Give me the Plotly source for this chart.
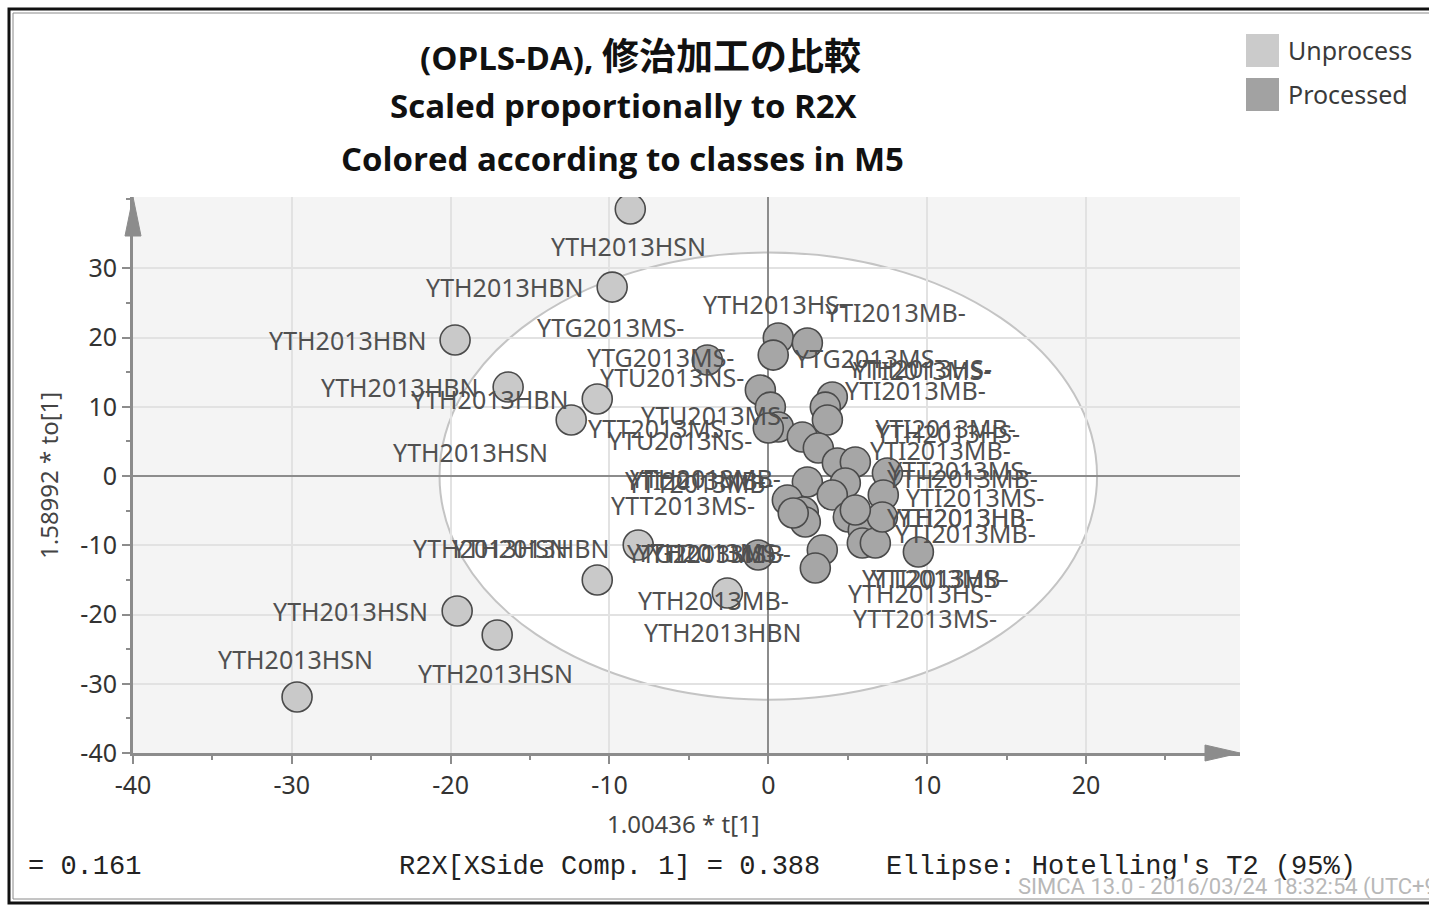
import plotly.graph_objects as go

# ---------------- data ----------------
unproc_t = [-8.69, -9.83, -19.72, -16.38, -10.77, -12.41, -8.19, -10.77, -19.59, -17.07, -29.67, -2.58]
unproc_to = [38.56, 27.29, 19.64, 12.85, 11.12, 8.09, -9.96, -15.02, -19.49, -22.96, -31.91, -16.90]
unproc_names = ["YTH2013HSN", "YTH2013HBN", "YTH2013HBN", "YTH2013HBN", "YTH2013HBN", "YTH2013HSN",
                "YTH2013HBN", "YTH2013HSN", "YTH2013HSN", "YTH2013HSN", "YTH2013HSN", "YTH2013HBN"]

proc_t = [0.63, 2.46, 0.31, -3.84, -0.50, 4.03, 3.59, 3.72, 0.13, 0.63, 0.00, 2.14, 3.15, 4.35, 5.48,
          7.50, 2.46, 4.85, 4.03, 7.24, 1.20, 2.20, 2.33, 5.04, 5.98, 5.92, 6.74, 3.40, 2.96, 9.45,
          -0.63, 7.18, 5.48, 1.57]
proc_to = [19.93, 19.21, 17.47, 16.75, 12.42, 11.41, 9.96, 8.09, 9.96, 7.08, 6.93, 5.63, 4.04, 1.88, 2.02,
           0.43, -0.87, -1.01, -2.74, -2.74, -3.47, -5.20, -6.64, -5.92, -7.80, -9.68, -9.68, -10.69, -13.29, -10.97,
           -11.41, -5.92, -4.91, -5.34]
proc_names = ["YTH2013HS-", "YTI2013MB-", "YTG2013MS-", "YTG2013MS-", "YTU2013NS-", "YTH2013HS-",
              "YTI2013MS-", "YTI2013MB-", "YTG2013MS-", "YTU2013MS-", "YTT2013MS-", "YTU2013NS-",
              "YTI2013MB-", "YTH2013HS-", "YTI2013MB-", "YTT2013MS-", "YTH2013MB-", "YTH2013MB-",
              "YTT2013MB-", "YTI2013MS-", "YTI2013MB-", "YTT2013MS-", "YTT2013MB-", "YTH2013HB-",
              "YTI2013MB-", "YTT2013MS-", "YTH2013HS-", "YTI2013MB-", "YTH2013MB-", "YTT2013MB-",
              "YTG2013MS-", "YTI2013HB-", "YTI2013HS-", "YTH2013MS-"]

x_tick_vals = [-40, -30, -20, -10, 0, 10, 20]
x_tick_text = ["-40", "-30", "-20", "-10", "0", "10", "20"]
y_tick_vals = [-40, -30, -20, -10, 0, 10, 20, 30]
y_tick_text = ["-40", "-30", "-20", "-10", "0", "10", "20", "30"]

ellipse_t = 20.7
ellipse_to = 32.3

title_line1_latin = "(OPLS-DA), "
title_line1_cjk = "修治加工の比較"
title_lines_rest = ["Scaled proportionally to R2X", "Colored according to classes in M5"]
x_title = "1.00436 * t[1]"
y_title = "1.58992 * to[1]"
footer_left = "= 0.161"
footer_mid = "R2X[XSide Comp. 1] = 0.388"
footer_right = "Ellipse: Hotelling's T2 (95%)"
watermark = "SIMCA 13.0 - 2016/03/24 18:32:54 (UTC+9)"
class_names = ["Unprocess", "Processed"]

# ---------------- styling ----------------
# label centre offsets in pixels (dx right, dy down) relative to each marker
unproc_label_off = [(-2, 37), (-107, 0), (-107, 0), (-108, 0), (-107, 0), (-101, 32),
                    (-107, 3), (-107, -32), (-107, 0), (-2, 38), (-2, -38), (-4, 39)]
proc_label_off = [(-3, -34), (88, -31), (-113, 2), (-97, -33), (-88, -13), (88, -29),
                  (97, -37), (88, -30), (98, -49), (-63, -12), (-108, 0), (-122, 3),
                  (127, -20), (111, -30), (85, -12), (73, -3), (-102, -4), (117, -5),
                  (-132, -12), (92, 2), (-92, -20), (-120, -7), None, (112, 0),
                  (102, 3), (63, 75), (45, 50), (-102, 3), (-102, 32), (17, 26),
                  (-58, -2), (83, 0), (83, 68), (-83, 39)]

W, H = 1429, 906
PL, PR, PT, PB = 133, 1240, 197, 753
PW, PH = PR - PL, PB - PT


def px(x):
    return (x - PL) / PW


def py(y):
    return (PB - y) / PH


LIGHT = "#c9c9c9"
DARK = "#a6a6a6"
EDGE = "#4a4a4a"
AXIS = "#8c8c8c"
LABEL_FONT = "Noto Sans, Open Sans, sans-serif"
TITLE_FONT = "Open Sans, Noto Sans CJK JP, sans-serif"

fig = go.Figure()

fig.add_trace(go.Scatter(
    x=unproc_t, y=unproc_to, mode="markers", name=class_names[0], text=unproc_names,
    marker=dict(size=30, color=LIGHT, line=dict(color=EDGE, width=1.6)), showlegend=False))
fig.add_trace(go.Scatter(
    x=proc_t, y=proc_to, mode="markers", name=class_names[1], text=proc_names,
    marker=dict(size=30, color=DARK, line=dict(color=EDGE, width=1.6)), showlegend=False))

annotations = []
for xs, ys, names, offs in [(unproc_t, unproc_to, unproc_names, unproc_label_off),
                            (proc_t, proc_to, proc_names, proc_label_off)]:
    for xv, yv, nm, off in zip(xs, ys, names, offs):
        if off is None:
            continue
        annotations.append(dict(x=xv, y=yv, xref="x", yref="y", text=nm, showarrow=False,
                                xshift=off[0], yshift=-off[1], xanchor="center", yanchor="middle",
                                font=dict(family=LABEL_FONT, size=25, color="#505050")))

# titles
line1 = "<b>%s<span style='font-size:37px'>%s</span></b>" % (title_line1_latin, title_line1_cjk)
for text, xc, yc in [(line1, 640, 55), ("<b>%s</b>" % title_lines_rest[0], 624, 106),
                     ("<b>%s</b>" % title_lines_rest[1], 622, 158)]:
    annotations.append(dict(x=px(xc), y=py(yc), xref="paper", yref="paper", text=text,
                            showarrow=False, xanchor="center", yanchor="middle",
                            font=dict(family=TITLE_FONT, size=33, color="#111111")))

# axis titles
annotations.append(dict(x=px(683), y=py(823), xref="paper", yref="paper", text=x_title, showarrow=False,
                        xanchor="center", yanchor="middle",
                        font=dict(family=LABEL_FONT, size=24, color="#444444")))
annotations.append(dict(x=px(48), y=py(476), xref="paper", yref="paper", text=y_title, showarrow=False,
                        textangle=-90, xanchor="center", yanchor="middle",
                        font=dict(family=LABEL_FONT, size=24, color="#444444")))

# footer
MONO = "Liberation Mono, DejaVu Sans Mono, monospace"
annotations.append(dict(x=px(26), y=py(867), xref="paper", yref="paper", text=footer_left, showarrow=False,
                        xanchor="left", yanchor="middle", font=dict(family=MONO, size=27, color="#222222")))
annotations.append(dict(x=px(397), y=py(867), xref="paper", yref="paper", text=footer_mid, showarrow=False,
                        xanchor="left", yanchor="middle", font=dict(family=MONO, size=27, color="#222222")))
annotations.append(dict(x=px(884), y=py(867), xref="paper", yref="paper", text=footer_right, showarrow=False,
                        xanchor="left", yanchor="middle", font=dict(family=MONO, size=27, color="#222222")))
annotations.append(dict(x=px(1016), y=py(887), xref="paper", yref="paper", text=watermark, showarrow=False,
                        xanchor="left", yanchor="middle",
                        font=dict(family="Roboto, sans-serif", size=22, color="#b8b8b8")))

# legend
for nm, yc in zip(class_names, [50, 94]):
    annotations.append(dict(x=px(1286), y=py(yc), xref="paper", yref="paper", text=nm, showarrow=False,
                            xanchor="left", yanchor="middle",
                            font=dict(family=LABEL_FONT, size=25, color="#3a3a3a")))

shapes = []
# ellipse (Hotelling's T2)
shapes.append(dict(type="circle", xref="x", yref="y", x0=-ellipse_t, x1=ellipse_t, y0=-ellipse_to, y1=ellipse_to,
                   fillcolor="white", line=dict(color="#c4c4c4", width=2), layer="below"))
# axis arrowheads
shapes.append(dict(type="path", xref="paper", yref="paper", fillcolor=AXIS, line=dict(color=AXIS, width=1),
                   path="M %f %f L %f %f L %f %f Z" % (px(PL - 8), py(236), px(PL), py(PT), px(PL + 8), py(236))))
shapes.append(dict(type="path", xref="paper", yref="paper", fillcolor=AXIS, line=dict(color=AXIS, width=1),
                   path="M %f %f L %f %f L %f %f Z" % (px(1205), py(PB - 8), px(PR), py(PB), px(1205), py(PB + 8))))
# legend swatches
shapes.append(dict(type="rect", xref="paper", yref="paper", x0=px(1246), x1=px(1279), y0=py(34), y1=py(67),
                   fillcolor="#cbcbcb", line=dict(width=0)))
shapes.append(dict(type="rect", xref="paper", yref="paper", x0=px(1246), x1=px(1279), y0=py(78), y1=py(111),
                   fillcolor="#a2a2a2", line=dict(width=0)))
# outer frame
shapes.append(dict(type="rect", xref="paper", yref="paper", x0=px(9), x1=px(1445), y0=py(9), y1=py(903),
                   line=dict(color="#111111", width=3)))
shapes.append(dict(type="rect", xref="paper", yref="paper", x0=px(13), x1=px(1445), y0=py(13), y1=py(899),
                   line=dict(color="#8a8a8a", width=1)))

axis_common = dict(showgrid=True, gridcolor="#e2e2e2", gridwidth=2, zeroline=True, zerolinecolor=AXIS,
                   zerolinewidth=2, showline=True, linecolor=AXIS, linewidth=3, ticks="outside",
                   ticklen=8, tickwidth=2, tickcolor=AXIS,
                   tickfont=dict(family=LABEL_FONT, size=25, color="#333333"),
                   minor=dict(ticks="outside", ticklen=4, tickwidth=2, tickcolor=AXIS, dtick=5, showgrid=False))

fig.update_layout(
    width=W, height=H, autosize=False,
    margin=dict(l=PL, r=W - PR, t=PT, b=H - PB, pad=0),
    paper_bgcolor="white", plot_bgcolor="#f4f4f4",
    showlegend=False,
    xaxis=dict(range=[-40, 29.7], tickvals=x_tick_vals, ticktext=x_tick_text, **axis_common),
    yaxis=dict(range=[-40, 40.3], tickvals=y_tick_vals, ticktext=y_tick_text, **axis_common),
    annotations=annotations, shapes=shapes,
)

fig.write_html("out.html", config={"displayModeBar": False},
               post_script="document.body.style.margin='0';document.body.style.overflow='hidden';")
